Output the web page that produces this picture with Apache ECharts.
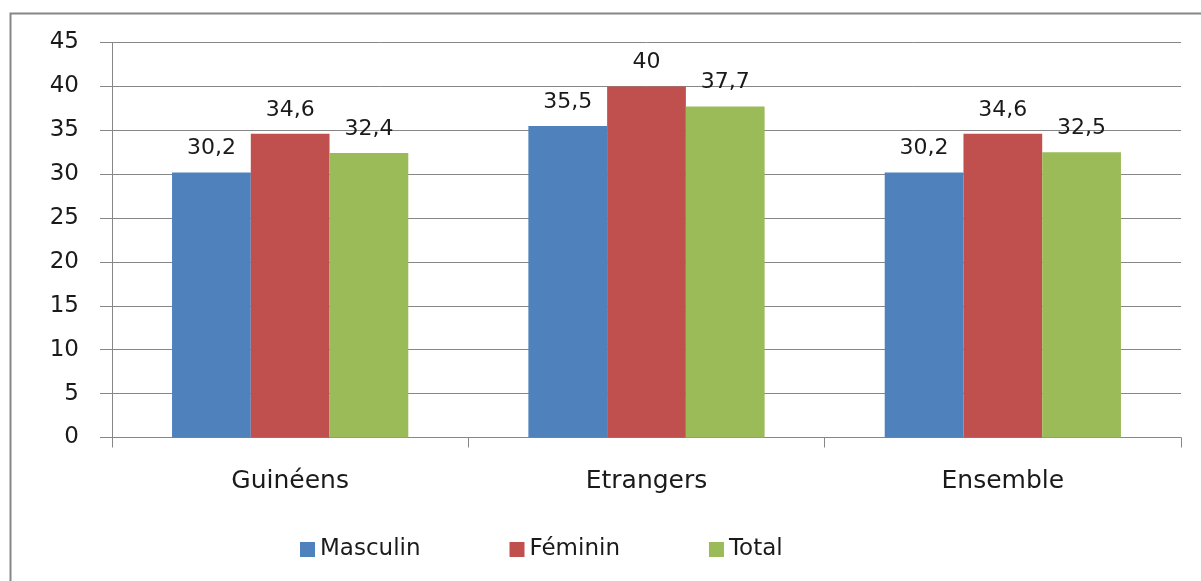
<!DOCTYPE html>
<html><head><meta charset="utf-8">
<script src="https://cdn.jsdelivr.net/npm/echarts@6/dist/echarts.min.js"></script>
<style>html,body{margin:0;padding:0;background:#fff}#c{width:1201px;height:581px}</style>
</head><body><div id="c"></div>
<script>
const categories = ['Guinéens', 'Etrangers', 'Ensemble'];
const masculin = [30.2, 35.5, 30.2];
const feminin = [34.6, 40, 34.6];
const total = [32.4, 37.7, 32.5];
const seriesNames = ['Masculin', 'Féminin', 'Total'];
const colors = ['#4F81BD', '#C0504D', '#9BBB59'];
const FONT = 'DejaVu Sans';

const chart = echarts.init(document.getElementById('c'), null, {renderer: 'canvas'});
const lbl = {
  show: true, position: 'top', distance: 13, color: '#1a1a1a', fontFamily: FONT, fontSize: 22,
  formatter: p => String(p.value).replace('.', ',')
};
function mk(name, data, color) {
  return {name, type: 'bar', data, itemStyle: {color}, barGap: '0%', barCategoryGap: '33.7%', label: lbl};
}
chart.setOption({
  animation: false,
  graphic: [{type: 'rect', shape: {x: 10.5, y: 13.5, width: 1300, height: 700},
    style: {fill: 'none', stroke: '#868686', lineWidth: 2}, silent: true}],
  grid: {left: 112, right: 20, top: 42.5, bottom: 143.5},
  legend: {
    data: seriesNames, left: 295, top: 533, itemWidth: 15, itemHeight: 15, itemGap: 89,
    icon: 'rect', textStyle: {fontFamily: FONT, fontSize: 23, color: '#1a1a1a'}
  },
  xAxis: {
    type: 'category', data: categories,
    axisLine: {lineStyle: {color: '#868686', width: 1}},
    axisTick: {show: true, length: 10, lineStyle: {color: '#868686'}},
    axisLabel: {margin: 31, color: '#1a1a1a', fontFamily: FONT, fontSize: 25}
  },
  yAxis: {
    type: 'value', min: 0, max: 45, interval: 5,
    axisLine: {show: true, lineStyle: {color: '#868686', width: 1}},
    axisTick: {show: true, inside: false, length: 12, lineStyle: {color: '#868686'}},
    axisLabel: {margin: 33, color: '#1a1a1a', fontFamily: FONT, fontSize: 23},
    splitLine: {show: true, lineStyle: {color: '#868686', width: 1}}
  },
  series: [mk(seriesNames[0], masculin, colors[0]), mk(seriesNames[1], feminin, colors[1]), mk(seriesNames[2], total, colors[2])]
});
</script></body></html>
